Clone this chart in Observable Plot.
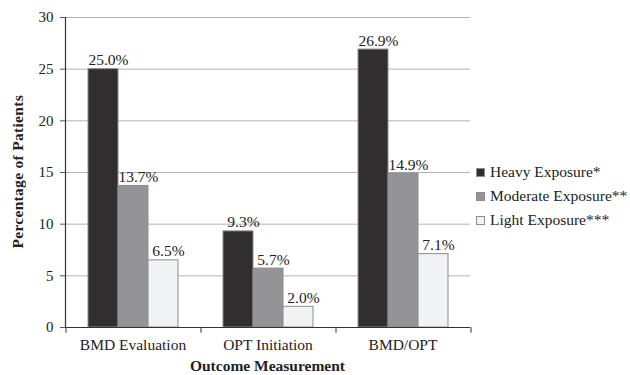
<!DOCTYPE html>
<html><head><meta charset="utf-8">
<script src="https://cdn.jsdelivr.net/npm/d3@7"></script>
<script src="https://cdn.jsdelivr.net/npm/@observablehq/plot@0.6"></script>
<style>
body{margin:0;background:#fff;}
#wrap{position:relative;width:630px;height:375px;font-family:"Liberation Serif","Times New Roman",serif;color:#222;}
#legend{position:absolute;left:476px;top:160px;font-size:15.5px;}
.item{display:flex;align-items:center;height:24px;white-space:nowrap;}
.sw{width:9px;height:9px;margin-right:5px;box-sizing:border-box;}
#xlab{position:absolute;left:65px;width:405px;top:357px;text-align:center;font-weight:bold;font-size:15.5px;}
#ylabbox{position:absolute;left:7px;top:17px;width:22px;height:310px;display:flex;align-items:center;justify-content:center;}
#ylab{writing-mode:vertical-rl;transform:rotate(180deg);font-weight:bold;font-size:15.5px;white-space:nowrap;letter-spacing:0.3px;}
</style></head><body><div id="wrap"><div id="legend"></div><div id="xlab"></div><div id="ylabbox"><span id="ylab"></span></div></div>
<script>
const categories = ["BMD Evaluation", "OPT Initiation", "BMD/OPT"];
const series = ["Heavy Exposure*", "Moderate Exposure**", "Light Exposure***"];
const heavy = [25.0, 9.3, 26.9];
const moderate = [13.7, 5.7, 14.9];
const light = [6.5, 2.0, 7.1];
const yTicks = [0, 5, 10, 15, 20, 25, 30];
const colors = ["#302e2f", "#949497", "#f1f2f4"];
const xTitle = "Outcome Measurement";
const yTitle = "Percentage of Patients";

const data = [];
[heavy, moderate, light].forEach((vals, si) =>
  vals.forEach((v, ci) => data.push({category: categories[ci], series: series[si], value: v})));

const plot = Plot.plot({
  width: 630, height: 375,
  marginLeft: 65, marginRight: 160, marginTop: 17, marginBottom: 48,
  style: {fontFamily: "'Liberation Serif', 'Times New Roman', serif", fontSize: "15px", color: "#222", background: "#fff"},
  fx: {domain: categories, padding: 0, label: null},
  x: {domain: series, paddingInner: 0, paddingOuter: 0.75, axis: null},
  y: {domain: [0, 30], label: null},
  color: {domain: series, range: colors},
  marks: [
    Plot.gridY(yTicks, {stroke: "#b3b3b3", strokeOpacity: 1}),
    Plot.axisY(yTicks, {tickSize: 5, tickPadding: 7, label: null, fontSize: 15, stroke: "#555"}),
    Plot.barY(data, {fx: "category", x: "series", y: "value", fill: "series", stroke: "#8c8c8c", strokeWidth: 1}),
    Plot.text(data, {fx: "category", x: "series", y: "value", text: d => d.value.toFixed(1) + "%", lineAnchor: "bottom", dy: -4, dx: 5, fontSize: 15.5, fill: "#222"}),
    Plot.ruleY([0], {stroke: "#333", strokeWidth: 1.2}),
    Plot.frame({anchor: "left", facetAnchor: "left", stroke: "#333", strokeWidth: 1.2}),
    Plot.ruleX(categories, {fx: d => d, x: () => series[0], y1: 0, y2: -0.55, dx: -37.5, stroke: "#333"}),
    Plot.ruleX([categories[2]], {fx: d => d, x: () => series[2], y1: 0, y2: -0.55, dx: 37.5, stroke: "#333"}),
    Plot.axisFx({anchor: "bottom", tickSize: 0, tickPadding: 11, label: null, fontSize: 15.5})
  ]
});
document.getElementById("wrap").prepend(plot);
plot.style.position = "absolute"; plot.style.left = "0"; plot.style.top = "0";
document.getElementById("xlab").textContent = xTitle;
document.getElementById("ylab").textContent = yTitle;
const leg = document.getElementById("legend");
series.forEach((s, i) => {
  const it = document.createElement("div"); it.className = "item";
  const sw = document.createElement("span"); sw.className = "sw";
  sw.style.background = colors[i]; sw.style.border = "1px solid #8c8c8c";
  const t = document.createElement("span"); t.textContent = s;
  it.append(sw, t); leg.append(it);
});
</script></body></html>
